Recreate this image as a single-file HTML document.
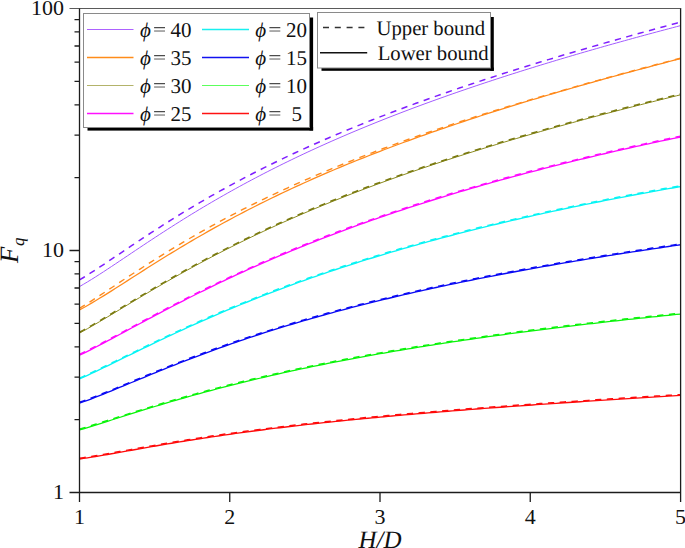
<!DOCTYPE html>
<html><head><meta charset="utf-8"><style>
html,body{margin:0;padding:0;background:#fff;width:685px;height:548px;overflow:hidden}
svg{display:block}
text{font-family:"Liberation Serif",serif;fill:#111;text-rendering:geometricPrecision}
.tl{font-size:22px;text-rendering:optimizeLegibility}
.lg{font-size:21px}
.lg2{font-size:20.7px}
.phi{font-style:italic}
.at{font-size:25px;font-style:italic}
.sub{font-size:17px}
</style></head><body>
<svg width="685" height="548" viewBox="0 0 685 548">
<path d="M79.50 286.60 L83.51 284.28 L87.51 281.89 L91.52 279.43 L95.53 276.91 L99.53 274.35 L103.54 271.75 L107.55 269.12 L111.55 266.47 L115.56 263.80 L119.57 261.11 L123.57 258.43 L127.58 255.74 L131.59 253.05 L135.59 250.36 L139.60 247.68 L143.61 245.01 L147.61 242.35 L151.62 239.70 L155.63 237.07 L159.63 234.45 L163.64 231.85 L167.65 229.27 L171.65 226.70 L175.66 224.16 L179.67 221.63 L183.67 219.13 L187.68 216.65 L191.69 214.18 L195.69 211.74 L199.70 209.32 L203.71 206.93 L207.71 204.55 L211.72 202.20 L215.73 199.87 L219.73 197.56 L223.74 195.27 L227.75 193.01 L231.75 190.76 L235.76 188.54 L239.77 186.34 L243.77 184.16 L247.78 182.00 L251.79 179.87 L255.79 177.75 L259.80 175.65 L263.81 173.57 L267.81 171.52 L271.82 169.48 L275.83 167.46 L279.83 165.46 L283.84 163.48 L287.85 161.52 L291.85 159.58 L295.86 157.65 L299.87 155.74 L303.87 153.85 L307.88 151.98 L311.89 150.13 L315.89 148.29 L319.90 146.46 L323.91 144.66 L327.91 142.87 L331.92 141.09 L335.93 139.33 L339.93 137.59 L343.94 135.86 L347.95 134.15 L351.95 132.45 L355.96 130.76 L359.97 129.09 L363.97 127.43 L367.98 125.79 L371.99 124.16 L375.99 122.54 L380.00 120.93 L384.01 119.34 L388.01 117.76 L392.02 116.19 L396.03 114.64 L400.03 113.10 L404.04 111.56 L408.05 110.04 L412.05 108.53 L416.06 107.04 L420.07 105.55 L424.07 104.07 L428.08 102.61 L432.09 101.15 L436.09 99.71 L440.10 98.27 L444.11 96.85 L448.11 95.43 L452.12 94.02 L456.13 92.63 L460.13 91.24 L464.14 89.86 L468.15 88.49 L472.15 87.13 L476.16 85.78 L480.17 84.44 L484.17 83.10 L488.18 81.78 L492.19 80.46 L496.19 79.15 L500.20 77.84 L504.21 76.55 L508.21 75.26 L512.22 73.98 L516.23 72.71 L520.23 71.44 L524.24 70.18 L528.25 68.93 L532.25 67.69 L536.26 66.45 L540.27 65.22 L544.27 64.00 L548.28 62.78 L552.29 61.57 L556.29 60.36 L560.30 59.16 L564.31 57.97 L568.31 56.78 L572.32 55.60 L576.33 54.42 L580.33 53.26 L584.34 52.09 L588.35 50.93 L592.35 49.78 L596.36 48.63 L600.37 47.49 L604.37 46.35 L608.38 45.22 L612.39 44.09 L616.39 42.97 L620.40 41.85 L624.41 40.74 L628.41 39.63 L632.42 38.53 L636.43 37.43 L640.43 36.34 L644.44 35.25 L648.45 34.16 L652.45 33.08 L656.46 32.01 L660.47 30.93 L664.47 29.86 L668.48 28.80 L672.49 27.74 L676.49 26.68 L680.50 25.63" stroke="#a35cff" stroke-width="1.00" fill="none"/>
<path d="M79.50 279.95 L83.51 277.50 L87.51 274.99 L91.52 272.42 L95.53 269.82 L99.53 267.18 L103.54 264.52 L107.55 261.84 L111.55 259.15 L115.56 256.46 L119.57 253.76 L123.57 251.06 L127.58 248.36 L131.59 245.68 L135.59 243.00 L139.60 240.34 L143.61 237.69 L147.61 235.06 L151.62 232.44 L155.63 229.84 L159.63 227.26 L163.64 224.70 L167.65 222.17 L171.65 219.65 L175.66 217.15 L179.67 214.68 L183.67 212.23 L187.68 209.81 L191.69 207.40 L195.69 205.02 L199.70 202.66 L203.71 200.33 L207.71 198.01 L211.72 195.72 L215.73 193.46 L219.73 191.21 L223.74 188.99 L227.75 186.79 L231.75 184.61 L235.76 182.46 L239.77 180.32 L243.77 178.21 L247.78 176.12 L251.79 174.04 L255.79 171.99 L259.80 169.96 L263.81 167.95 L267.81 165.95 L271.82 163.98 L275.83 162.03 L279.83 160.09 L283.84 158.17 L287.85 156.27 L291.85 154.39 L295.86 152.53 L299.87 150.68 L303.87 148.85 L307.88 147.03 L311.89 145.23 L315.89 143.45 L319.90 141.68 L323.91 139.93 L327.91 138.20 L331.92 136.48 L335.93 134.77 L339.93 133.08 L343.94 131.40 L347.95 129.73 L351.95 128.08 L355.96 126.45 L359.97 124.82 L363.97 123.21 L367.98 121.61 L371.99 120.02 L375.99 118.45 L380.00 116.89 L384.01 115.33 L388.01 113.80 L392.02 112.27 L396.03 110.75 L400.03 109.24 L404.04 107.75 L408.05 106.26 L412.05 104.79 L416.06 103.32 L420.07 101.87 L424.07 100.42 L428.08 98.99 L432.09 97.56 L436.09 96.15 L440.10 94.74 L444.11 93.34 L448.11 91.95 L452.12 90.57 L456.13 89.19 L460.13 87.83 L464.14 86.47 L468.15 85.12 L472.15 83.78 L476.16 82.45 L480.17 81.13 L484.17 79.81 L488.18 78.50 L492.19 77.19 L496.19 75.90 L500.20 74.61 L504.21 73.32 L508.21 72.05 L512.22 70.78 L516.23 69.52 L520.23 68.26 L524.24 67.01 L528.25 65.76 L532.25 64.53 L536.26 63.29 L540.27 62.07 L544.27 60.84 L548.28 59.63 L552.29 58.42 L556.29 57.21 L560.30 56.02 L564.31 54.82 L568.31 53.63 L572.32 52.45 L576.33 51.27 L580.33 50.10 L584.34 48.93 L588.35 47.76 L592.35 46.60 L596.36 45.45 L600.37 44.30 L604.37 43.15 L608.38 42.01 L612.39 40.87 L616.39 39.74 L620.40 38.61 L624.41 37.48 L628.41 36.36 L632.42 35.24 L636.43 34.13 L640.43 33.02 L644.44 31.91 L648.45 30.81 L652.45 29.71 L656.46 28.61 L660.47 27.52 L664.47 26.43 L668.48 25.35 L672.49 24.27 L676.49 23.19 L680.50 22.11" stroke="#7f1fff" stroke-width="1.50" fill="none" stroke-dasharray="6.3 5.5"/>
<path d="M79.50 309.89 L83.51 307.72 L87.51 305.47 L91.52 303.14 L95.53 300.76 L99.53 298.33 L103.54 295.87 L107.55 293.37 L111.55 290.85 L115.56 288.30 L119.57 285.75 L123.57 283.19 L127.58 280.62 L131.59 278.06 L135.59 275.49 L139.60 272.93 L143.61 270.38 L147.61 267.84 L151.62 265.31 L155.63 262.79 L159.63 260.29 L163.64 257.80 L167.65 255.33 L171.65 252.87 L175.66 250.44 L179.67 248.02 L183.67 245.62 L187.68 243.24 L191.69 240.88 L195.69 238.55 L199.70 236.23 L203.71 233.93 L207.71 231.66 L211.72 229.40 L215.73 227.17 L219.73 224.95 L223.74 222.76 L227.75 220.59 L231.75 218.44 L235.76 216.30 L239.77 214.19 L243.77 212.10 L247.78 210.03 L251.79 207.98 L255.79 205.95 L259.80 203.93 L263.81 201.94 L267.81 199.97 L271.82 198.01 L275.83 196.07 L279.83 194.15 L283.84 192.25 L287.85 190.37 L291.85 188.50 L295.86 186.65 L299.87 184.82 L303.87 183.00 L307.88 181.20 L311.89 179.41 L315.89 177.65 L319.90 175.89 L323.91 174.16 L327.91 172.43 L331.92 170.73 L335.93 169.03 L339.93 167.36 L343.94 165.69 L347.95 164.04 L351.95 162.40 L355.96 160.78 L359.97 159.17 L363.97 157.57 L367.98 155.99 L371.99 154.42 L375.99 152.86 L380.00 151.31 L384.01 149.78 L388.01 148.25 L392.02 146.74 L396.03 145.24 L400.03 143.75 L404.04 142.27 L408.05 140.80 L412.05 139.35 L416.06 137.90 L420.07 136.46 L424.07 135.04 L428.08 133.62 L432.09 132.21 L436.09 130.82 L440.10 129.43 L444.11 128.05 L448.11 126.68 L452.12 125.32 L456.13 123.97 L460.13 122.62 L464.14 121.29 L468.15 119.96 L472.15 118.65 L476.16 117.34 L480.17 116.03 L484.17 114.74 L488.18 113.45 L492.19 112.17 L496.19 110.90 L500.20 109.64 L504.21 108.38 L508.21 107.13 L512.22 105.89 L516.23 104.65 L520.23 103.42 L524.24 102.20 L528.25 100.98 L532.25 99.77 L536.26 98.56 L540.27 97.37 L544.27 96.17 L548.28 94.99 L552.29 93.81 L556.29 92.63 L560.30 91.47 L564.31 90.30 L568.31 89.15 L572.32 87.99 L576.33 86.85 L580.33 85.71 L584.34 84.57 L588.35 83.44 L592.35 82.31 L596.36 81.19 L600.37 80.07 L604.37 78.96 L608.38 77.86 L612.39 76.75 L616.39 75.66 L620.40 74.56 L624.41 73.47 L628.41 72.39 L632.42 71.31 L636.43 70.23 L640.43 69.16 L644.44 68.09 L648.45 67.03 L652.45 65.97 L656.46 64.91 L660.47 63.86 L664.47 62.81 L668.48 61.76 L672.49 60.72 L676.49 59.68 L680.50 58.65" stroke="#ff8a1c" stroke-width="1.25" fill="none"/>
<path d="M79.50 308.26 L83.51 305.83 L87.51 303.33 L91.52 300.79 L95.53 298.22 L99.53 295.62 L103.54 293.00 L107.55 290.36 L111.55 287.72 L115.56 285.07 L119.57 282.43 L123.57 279.78 L127.58 277.15 L131.59 274.52 L135.59 271.91 L139.60 269.30 L143.61 266.72 L147.61 264.15 L151.62 261.60 L155.63 259.07 L159.63 256.56 L163.64 254.07 L167.65 251.60 L171.65 249.15 L175.66 246.73 L179.67 244.33 L183.67 241.95 L187.68 239.59 L191.69 237.26 L195.69 234.95 L199.70 232.66 L203.71 230.39 L207.71 228.15 L211.72 225.93 L215.73 223.74 L219.73 221.56 L223.74 219.41 L227.75 217.28 L231.75 215.17 L235.76 213.09 L239.77 211.02 L243.77 208.98 L247.78 206.95 L251.79 204.95 L255.79 202.96 L259.80 201.00 L263.81 199.05 L267.81 197.13 L271.82 195.22 L275.83 193.33 L279.83 191.46 L283.84 189.61 L287.85 187.77 L291.85 185.95 L295.86 184.15 L299.87 182.37 L303.87 180.60 L307.88 178.85 L311.89 177.11 L315.89 175.39 L319.90 173.69 L323.91 172.00 L327.91 170.32 L331.92 168.66 L335.93 167.01 L339.93 165.38 L343.94 163.76 L347.95 162.16 L351.95 160.56 L355.96 158.98 L359.97 157.42 L363.97 155.86 L367.98 154.32 L371.99 152.79 L375.99 151.27 L380.00 149.76 L384.01 148.26 L388.01 146.78 L392.02 145.30 L396.03 143.84 L400.03 142.39 L404.04 140.95 L408.05 139.51 L412.05 138.09 L416.06 136.68 L420.07 135.27 L424.07 133.88 L428.08 132.50 L432.09 131.12 L436.09 129.75 L440.10 128.40 L444.11 127.05 L448.11 125.71 L452.12 124.37 L456.13 123.05 L460.13 121.73 L464.14 120.42 L468.15 119.12 L472.15 117.83 L476.16 116.54 L480.17 115.26 L484.17 113.99 L488.18 112.72 L492.19 111.47 L496.19 110.21 L500.20 108.97 L504.21 107.73 L508.21 106.50 L512.22 105.27 L516.23 104.05 L520.23 102.84 L524.24 101.63 L528.25 100.43 L532.25 99.24 L536.26 98.05 L540.27 96.86 L544.27 95.68 L548.28 94.51 L552.29 93.34 L556.29 92.17 L560.30 91.02 L564.31 89.86 L568.31 88.71 L572.32 87.57 L576.33 86.43 L580.33 85.30 L584.34 84.17 L588.35 83.04 L592.35 81.92 L596.36 80.80 L600.37 79.69 L604.37 78.58 L608.38 77.48 L612.39 76.38 L616.39 75.28 L620.40 74.19 L624.41 73.10 L628.41 72.01 L632.42 70.93 L636.43 69.86 L640.43 68.78 L644.44 67.71 L648.45 66.64 L652.45 65.58 L656.46 64.52 L660.47 63.46 L664.47 62.41 L668.48 61.36 L672.49 60.31 L676.49 59.27 L680.50 58.22" stroke="#ff8a1c" stroke-width="1.40" fill="none" stroke-dasharray="6.3 5.5"/>
<path d="M79.50 333.11 L83.51 330.91 L87.51 328.66 L91.52 326.37 L95.53 324.04 L99.53 321.69 L103.54 319.31 L107.55 316.91 L111.55 314.50 L115.56 312.08 L119.57 309.66 L123.57 307.24 L127.58 304.82 L131.59 302.41 L135.59 300.00 L139.60 297.60 L143.61 295.20 L147.61 292.83 L151.62 290.46 L155.63 288.10 L159.63 285.77 L163.64 283.44 L167.65 281.14 L171.65 278.85 L175.66 276.57 L179.67 274.32 L183.67 272.08 L187.68 269.86 L191.69 267.66 L195.69 265.47 L199.70 263.31 L203.71 261.16 L207.71 259.04 L211.72 256.93 L215.73 254.84 L219.73 252.77 L223.74 250.71 L227.75 248.68 L231.75 246.66 L235.76 244.66 L239.77 242.68 L243.77 240.72 L247.78 238.78 L251.79 236.85 L255.79 234.94 L259.80 233.05 L263.81 231.17 L267.81 229.31 L271.82 227.47 L275.83 225.64 L279.83 223.83 L283.84 222.04 L287.85 220.26 L291.85 218.50 L295.86 216.75 L299.87 215.01 L303.87 213.30 L307.88 211.59 L311.89 209.90 L315.89 208.23 L319.90 206.57 L323.91 204.92 L327.91 203.29 L331.92 201.66 L335.93 200.06 L339.93 198.46 L343.94 196.88 L347.95 195.31 L351.95 193.76 L355.96 192.21 L359.97 190.68 L363.97 189.16 L367.98 187.65 L371.99 186.15 L375.99 184.67 L380.00 183.19 L384.01 181.73 L388.01 180.27 L392.02 178.83 L396.03 177.40 L400.03 175.98 L404.04 174.56 L408.05 173.16 L412.05 171.77 L416.06 170.39 L420.07 169.01 L424.07 167.65 L428.08 166.30 L432.09 164.95 L436.09 163.61 L440.10 162.29 L444.11 160.97 L448.11 159.66 L452.12 158.36 L456.13 157.06 L460.13 155.78 L464.14 154.50 L468.15 153.23 L472.15 151.97 L476.16 150.72 L480.17 149.47 L484.17 148.23 L488.18 147.00 L492.19 145.78 L496.19 144.56 L500.20 143.35 L504.21 142.15 L508.21 140.95 L512.22 139.76 L516.23 138.58 L520.23 137.41 L524.24 136.24 L528.25 135.07 L532.25 133.92 L536.26 132.77 L540.27 131.62 L544.27 130.48 L548.28 129.35 L552.29 128.22 L556.29 127.10 L560.30 125.99 L564.31 124.88 L568.31 123.77 L572.32 122.68 L576.33 121.58 L580.33 120.50 L584.34 119.41 L588.35 118.34 L592.35 117.26 L596.36 116.20 L600.37 115.13 L604.37 114.08 L608.38 113.02 L612.39 111.98 L616.39 110.93 L620.40 109.89 L624.41 108.86 L628.41 107.83 L632.42 106.81 L636.43 105.78 L640.43 104.77 L644.44 103.76 L648.45 102.75 L652.45 101.75 L656.46 100.75 L660.47 99.75 L664.47 98.76 L668.48 97.77 L672.49 96.79 L676.49 95.81 L680.50 94.83" stroke="#8a8a1e" stroke-width="1.00" fill="none"/>
<path d="M79.50 332.31 L83.51 330.11 L87.51 327.86 L91.52 325.57 L95.53 323.24 L99.53 320.89 L103.54 318.51 L107.55 316.11 L111.55 313.70 L115.56 311.28 L119.57 308.86 L123.57 306.44 L127.58 304.02 L131.59 301.61 L135.59 299.20 L139.60 296.80 L143.61 294.40 L147.61 292.03 L151.62 289.66 L155.63 287.30 L159.63 284.97 L163.64 282.64 L167.65 280.34 L171.65 278.05 L175.66 275.77 L179.67 273.52 L183.67 271.28 L187.68 269.06 L191.69 266.86 L195.69 264.67 L199.70 262.51 L203.71 260.36 L207.71 258.24 L211.72 256.13 L215.73 254.04 L219.73 251.97 L223.74 249.91 L227.75 247.88 L231.75 245.86 L235.76 243.86 L239.77 241.88 L243.77 239.92 L247.78 237.98 L251.79 236.05 L255.79 234.14 L259.80 232.25 L263.81 230.37 L267.81 228.51 L271.82 226.67 L275.83 224.84 L279.83 223.03 L283.84 221.24 L287.85 219.46 L291.85 217.70 L295.86 215.95 L299.87 214.21 L303.87 212.50 L307.88 210.79 L311.89 209.10 L315.89 207.43 L319.90 205.77 L323.91 204.12 L327.91 202.49 L331.92 200.86 L335.93 199.26 L339.93 197.66 L343.94 196.08 L347.95 194.51 L351.95 192.96 L355.96 191.41 L359.97 189.88 L363.97 188.36 L367.98 186.85 L371.99 185.35 L375.99 183.87 L380.00 182.39 L384.01 180.93 L388.01 179.47 L392.02 178.03 L396.03 176.60 L400.03 175.18 L404.04 173.76 L408.05 172.36 L412.05 170.97 L416.06 169.59 L420.07 168.21 L424.07 166.85 L428.08 165.50 L432.09 164.15 L436.09 162.81 L440.10 161.49 L444.11 160.17 L448.11 158.86 L452.12 157.56 L456.13 156.26 L460.13 154.98 L464.14 153.70 L468.15 152.43 L472.15 151.17 L476.16 149.92 L480.17 148.67 L484.17 147.43 L488.18 146.20 L492.19 144.98 L496.19 143.76 L500.20 142.55 L504.21 141.35 L508.21 140.15 L512.22 138.96 L516.23 137.78 L520.23 136.61 L524.24 135.44 L528.25 134.27 L532.25 133.12 L536.26 131.97 L540.27 130.82 L544.27 129.68 L548.28 128.55 L552.29 127.42 L556.29 126.30 L560.30 125.19 L564.31 124.08 L568.31 122.97 L572.32 121.88 L576.33 120.78 L580.33 119.70 L584.34 118.61 L588.35 117.54 L592.35 116.46 L596.36 115.40 L600.37 114.33 L604.37 113.28 L608.38 112.22 L612.39 111.18 L616.39 110.13 L620.40 109.09 L624.41 108.06 L628.41 107.03 L632.42 106.01 L636.43 104.98 L640.43 103.97 L644.44 102.96 L648.45 101.95 L652.45 100.95 L656.46 99.95 L660.47 98.95 L664.47 97.96 L668.48 96.97 L672.49 95.99 L676.49 95.01 L680.50 94.03" stroke="#7a7a10" stroke-width="1.60" fill="none" stroke-dasharray="6.3 5.5"/>
<path d="M79.50 355.22 L83.51 353.29 L87.51 351.31 L91.52 349.29 L95.53 347.23 L99.53 345.16 L103.54 343.05 L107.55 340.93 L111.55 338.80 L115.56 336.66 L119.57 334.50 L123.57 332.35 L127.58 330.19 L131.59 328.03 L135.59 325.87 L139.60 323.72 L143.61 321.57 L147.61 319.42 L151.62 317.28 L155.63 315.16 L159.63 313.04 L163.64 310.93 L167.65 308.83 L171.65 306.74 L175.66 304.67 L179.67 302.61 L183.67 300.56 L187.68 298.52 L191.69 296.50 L195.69 294.49 L199.70 292.50 L203.71 290.52 L207.71 288.56 L211.72 286.61 L215.73 284.67 L219.73 282.75 L223.74 280.84 L227.75 278.95 L231.75 277.07 L235.76 275.21 L239.77 273.37 L243.77 271.53 L247.78 269.72 L251.79 267.92 L255.79 266.13 L259.80 264.35 L263.81 262.60 L267.81 260.85 L271.82 259.12 L275.83 257.41 L279.83 255.70 L283.84 254.02 L287.85 252.34 L291.85 250.68 L295.86 249.04 L299.87 247.40 L303.87 245.78 L307.88 244.18 L311.89 242.59 L315.89 241.01 L319.90 239.44 L323.91 237.88 L327.91 236.34 L331.92 234.81 L335.93 233.30 L339.93 231.79 L343.94 230.30 L347.95 228.82 L351.95 227.35 L355.96 225.89 L359.97 224.44 L363.97 223.01 L367.98 221.59 L371.99 220.18 L375.99 218.78 L380.00 217.39 L384.01 216.01 L388.01 214.64 L392.02 213.28 L396.03 211.93 L400.03 210.60 L404.04 209.27 L408.05 207.95 L412.05 206.65 L416.06 205.35 L420.07 204.06 L424.07 202.79 L428.08 201.52 L432.09 200.26 L436.09 199.01 L440.10 197.77 L444.11 196.54 L448.11 195.32 L452.12 194.11 L456.13 192.90 L460.13 191.71 L464.14 190.52 L468.15 189.34 L472.15 188.17 L476.16 187.01 L480.17 185.86 L484.17 184.71 L488.18 183.58 L492.19 182.45 L496.19 181.33 L500.20 180.21 L504.21 179.11 L508.21 178.01 L512.22 176.92 L516.23 175.84 L520.23 174.76 L524.24 173.69 L528.25 172.63 L532.25 171.58 L536.26 170.53 L540.27 169.49 L544.27 168.46 L548.28 167.43 L552.29 166.41 L556.29 165.40 L560.30 164.39 L564.31 163.39 L568.31 162.40 L572.32 161.41 L576.33 160.43 L580.33 159.46 L584.34 158.49 L588.35 157.53 L592.35 156.57 L596.36 155.62 L600.37 154.68 L604.37 153.74 L608.38 152.81 L612.39 151.88 L616.39 150.96 L620.40 150.05 L624.41 149.14 L628.41 148.24 L632.42 147.34 L636.43 146.45 L640.43 145.56 L644.44 144.68 L648.45 143.80 L652.45 142.93 L656.46 142.06 L660.47 141.20 L664.47 140.35 L668.48 139.49 L672.49 138.65 L676.49 137.81 L680.50 136.97" stroke="#ff0aff" stroke-width="1.35" fill="none"/>
<path d="M79.50 354.42 L83.51 352.49 L87.51 350.51 L91.52 348.49 L95.53 346.43 L99.53 344.36 L103.54 342.25 L107.55 340.13 L111.55 338.00 L115.56 335.86 L119.57 333.70 L123.57 331.55 L127.58 329.39 L131.59 327.23 L135.59 325.07 L139.60 322.92 L143.61 320.77 L147.61 318.62 L151.62 316.48 L155.63 314.36 L159.63 312.24 L163.64 310.13 L167.65 308.03 L171.65 305.94 L175.66 303.87 L179.67 301.81 L183.67 299.76 L187.68 297.72 L191.69 295.70 L195.69 293.69 L199.70 291.70 L203.71 289.72 L207.71 287.76 L211.72 285.81 L215.73 283.87 L219.73 281.95 L223.74 280.04 L227.75 278.15 L231.75 276.27 L235.76 274.41 L239.77 272.57 L243.77 270.73 L247.78 268.92 L251.79 267.12 L255.79 265.33 L259.80 263.55 L263.81 261.80 L267.81 260.05 L271.82 258.32 L275.83 256.61 L279.83 254.90 L283.84 253.22 L287.85 251.54 L291.85 249.88 L295.86 248.24 L299.87 246.60 L303.87 244.98 L307.88 243.38 L311.89 241.79 L315.89 240.21 L319.90 238.64 L323.91 237.08 L327.91 235.54 L331.92 234.01 L335.93 232.50 L339.93 230.99 L343.94 229.50 L347.95 228.02 L351.95 226.55 L355.96 225.09 L359.97 223.64 L363.97 222.21 L367.98 220.79 L371.99 219.38 L375.99 217.98 L380.00 216.59 L384.01 215.21 L388.01 213.84 L392.02 212.48 L396.03 211.13 L400.03 209.80 L404.04 208.47 L408.05 207.15 L412.05 205.85 L416.06 204.55 L420.07 203.26 L424.07 201.99 L428.08 200.72 L432.09 199.46 L436.09 198.21 L440.10 196.97 L444.11 195.74 L448.11 194.52 L452.12 193.31 L456.13 192.10 L460.13 190.91 L464.14 189.72 L468.15 188.54 L472.15 187.37 L476.16 186.21 L480.17 185.06 L484.17 183.91 L488.18 182.78 L492.19 181.65 L496.19 180.53 L500.20 179.41 L504.21 178.31 L508.21 177.21 L512.22 176.12 L516.23 175.04 L520.23 173.96 L524.24 172.89 L528.25 171.83 L532.25 170.78 L536.26 169.73 L540.27 168.69 L544.27 167.66 L548.28 166.63 L552.29 165.61 L556.29 164.60 L560.30 163.59 L564.31 162.59 L568.31 161.60 L572.32 160.61 L576.33 159.63 L580.33 158.66 L584.34 157.69 L588.35 156.73 L592.35 155.77 L596.36 154.82 L600.37 153.88 L604.37 152.94 L608.38 152.01 L612.39 151.08 L616.39 150.16 L620.40 149.25 L624.41 148.34 L628.41 147.44 L632.42 146.54 L636.43 145.65 L640.43 144.76 L644.44 143.88 L648.45 143.00 L652.45 142.13 L656.46 141.26 L660.47 140.40 L664.47 139.55 L668.48 138.69 L672.49 137.85 L676.49 137.01 L680.50 136.17" stroke="#ff0aff" stroke-width="1.50" fill="none" stroke-dasharray="6.3 5.5"/>
<path d="M79.50 378.92 L83.51 377.13 L87.51 375.30 L91.52 373.44 L95.53 371.55 L99.53 369.64 L103.54 367.72 L107.55 365.78 L111.55 363.83 L115.56 361.88 L119.57 359.92 L123.57 357.97 L127.58 356.01 L131.59 354.05 L135.59 352.10 L139.60 350.15 L143.61 348.20 L147.61 346.27 L151.62 344.34 L155.63 342.42 L159.63 340.51 L163.64 338.62 L167.65 336.73 L171.65 334.85 L175.66 332.99 L179.67 331.14 L183.67 329.30 L187.68 327.47 L191.69 325.66 L195.69 323.86 L199.70 322.08 L203.71 320.31 L207.71 318.55 L211.72 316.81 L215.73 315.08 L219.73 313.36 L223.74 311.66 L227.75 309.97 L231.75 308.30 L235.76 306.64 L239.77 305.00 L243.77 303.37 L247.78 301.75 L251.79 300.15 L255.79 298.56 L259.80 296.98 L263.81 295.42 L267.81 293.87 L271.82 292.34 L275.83 290.81 L279.83 289.30 L283.84 287.81 L287.85 286.33 L291.85 284.86 L295.86 283.40 L299.87 281.96 L303.87 280.53 L307.88 279.11 L311.89 277.70 L315.89 276.30 L319.90 274.92 L323.91 273.55 L327.91 272.19 L331.92 270.85 L335.93 269.51 L339.93 268.18 L343.94 266.87 L347.95 265.57 L351.95 264.28 L355.96 263.00 L359.97 261.73 L363.97 260.47 L367.98 259.22 L371.99 257.99 L375.99 256.76 L380.00 255.54 L384.01 254.34 L388.01 253.14 L392.02 251.95 L396.03 250.78 L400.03 249.61 L404.04 248.45 L408.05 247.30 L412.05 246.16 L416.06 245.03 L420.07 243.91 L424.07 242.80 L428.08 241.70 L432.09 240.61 L436.09 239.52 L440.10 238.44 L444.11 237.38 L448.11 236.32 L452.12 235.27 L456.13 234.22 L460.13 233.19 L464.14 232.16 L468.15 231.14 L472.15 230.13 L476.16 229.13 L480.17 228.13 L484.17 227.14 L488.18 226.16 L492.19 225.19 L496.19 224.23 L500.20 223.27 L504.21 222.32 L508.21 221.37 L512.22 220.44 L516.23 219.51 L520.23 218.58 L524.24 217.67 L528.25 216.76 L532.25 215.86 L536.26 214.96 L540.27 214.07 L544.27 213.19 L548.28 212.31 L552.29 211.44 L556.29 210.58 L560.30 209.72 L564.31 208.87 L568.31 208.02 L572.32 207.18 L576.33 206.35 L580.33 205.52 L584.34 204.70 L588.35 203.89 L592.35 203.07 L596.36 202.27 L600.37 201.47 L604.37 200.68 L608.38 199.89 L612.39 199.11 L616.39 198.33 L620.40 197.56 L624.41 196.79 L628.41 196.03 L632.42 195.27 L636.43 194.52 L640.43 193.78 L644.44 193.04 L648.45 192.30 L652.45 191.57 L656.46 190.84 L660.47 190.12 L664.47 189.40 L668.48 188.69 L672.49 187.98 L676.49 187.28 L680.50 186.58" stroke="#08f4f4" stroke-width="1.35" fill="none"/>
<path d="M79.50 378.12 L83.51 376.33 L87.51 374.50 L91.52 372.64 L95.53 370.75 L99.53 368.84 L103.54 366.92 L107.55 364.98 L111.55 363.03 L115.56 361.08 L119.57 359.12 L123.57 357.17 L127.58 355.21 L131.59 353.25 L135.59 351.30 L139.60 349.35 L143.61 347.40 L147.61 345.47 L151.62 343.54 L155.63 341.62 L159.63 339.71 L163.64 337.82 L167.65 335.93 L171.65 334.05 L175.66 332.19 L179.67 330.34 L183.67 328.50 L187.68 326.67 L191.69 324.86 L195.69 323.06 L199.70 321.28 L203.71 319.51 L207.71 317.75 L211.72 316.01 L215.73 314.28 L219.73 312.56 L223.74 310.86 L227.75 309.17 L231.75 307.50 L235.76 305.84 L239.77 304.20 L243.77 302.57 L247.78 300.95 L251.79 299.35 L255.79 297.76 L259.80 296.18 L263.81 294.62 L267.81 293.07 L271.82 291.54 L275.83 290.01 L279.83 288.50 L283.84 287.01 L287.85 285.53 L291.85 284.06 L295.86 282.60 L299.87 281.16 L303.87 279.73 L307.88 278.31 L311.89 276.90 L315.89 275.50 L319.90 274.12 L323.91 272.75 L327.91 271.39 L331.92 270.05 L335.93 268.71 L339.93 267.38 L343.94 266.07 L347.95 264.77 L351.95 263.48 L355.96 262.20 L359.97 260.93 L363.97 259.67 L367.98 258.42 L371.99 257.19 L375.99 255.96 L380.00 254.74 L384.01 253.54 L388.01 252.34 L392.02 251.15 L396.03 249.98 L400.03 248.81 L404.04 247.65 L408.05 246.50 L412.05 245.36 L416.06 244.23 L420.07 243.11 L424.07 242.00 L428.08 240.90 L432.09 239.81 L436.09 238.72 L440.10 237.64 L444.11 236.58 L448.11 235.52 L452.12 234.47 L456.13 233.42 L460.13 232.39 L464.14 231.36 L468.15 230.34 L472.15 229.33 L476.16 228.33 L480.17 227.33 L484.17 226.34 L488.18 225.36 L492.19 224.39 L496.19 223.43 L500.20 222.47 L504.21 221.52 L508.21 220.57 L512.22 219.64 L516.23 218.71 L520.23 217.78 L524.24 216.87 L528.25 215.96 L532.25 215.06 L536.26 214.16 L540.27 213.27 L544.27 212.39 L548.28 211.51 L552.29 210.64 L556.29 209.78 L560.30 208.92 L564.31 208.07 L568.31 207.22 L572.32 206.38 L576.33 205.55 L580.33 204.72 L584.34 203.90 L588.35 203.09 L592.35 202.27 L596.36 201.47 L600.37 200.67 L604.37 199.88 L608.38 199.09 L612.39 198.31 L616.39 197.53 L620.40 196.76 L624.41 195.99 L628.41 195.23 L632.42 194.47 L636.43 193.72 L640.43 192.98 L644.44 192.24 L648.45 191.50 L652.45 190.77 L656.46 190.04 L660.47 189.32 L664.47 188.60 L668.48 187.89 L672.49 187.18 L676.49 186.48 L680.50 185.78" stroke="#08f4f4" stroke-width="1.50" fill="none" stroke-dasharray="6.3 5.5"/>
<path d="M79.50 403.13 L83.51 401.73 L87.51 400.26 L91.52 398.76 L95.53 397.22 L99.53 395.64 L103.54 394.05 L107.55 392.43 L111.55 390.79 L115.56 389.15 L119.57 387.49 L123.57 385.83 L127.58 384.16 L131.59 382.50 L135.59 380.83 L139.60 379.17 L143.61 377.51 L147.61 375.86 L151.62 374.21 L155.63 372.58 L159.63 370.95 L163.64 369.33 L167.65 367.72 L171.65 366.12 L175.66 364.53 L179.67 362.96 L183.67 361.40 L187.68 359.85 L191.69 358.31 L195.69 356.79 L199.70 355.28 L203.71 353.78 L207.71 352.30 L211.72 350.83 L215.73 349.37 L219.73 347.93 L223.74 346.50 L227.75 345.08 L231.75 343.68 L235.76 342.29 L239.77 340.92 L243.77 339.56 L247.78 338.21 L251.79 336.88 L255.79 335.56 L259.80 334.25 L263.81 332.95 L267.81 331.67 L271.82 330.40 L275.83 329.15 L279.83 327.90 L283.84 326.67 L287.85 325.45 L291.85 324.24 L295.86 323.05 L299.87 321.86 L303.87 320.69 L307.88 319.53 L311.89 318.38 L315.89 317.24 L319.90 316.11 L323.91 314.99 L327.91 313.88 L331.92 312.79 L335.93 311.70 L339.93 310.63 L343.94 309.56 L347.95 308.51 L351.95 307.46 L355.96 306.42 L359.97 305.40 L363.97 304.38 L367.98 303.37 L371.99 302.37 L375.99 301.38 L380.00 300.40 L384.01 299.43 L388.01 298.47 L392.02 297.51 L396.03 296.56 L400.03 295.63 L404.04 294.70 L408.05 293.77 L412.05 292.86 L416.06 291.95 L420.07 291.05 L424.07 290.16 L428.08 289.28 L432.09 288.40 L436.09 287.53 L440.10 286.67 L444.11 285.81 L448.11 284.96 L452.12 284.12 L456.13 283.29 L460.13 282.46 L464.14 281.64 L468.15 280.82 L472.15 280.01 L476.16 279.21 L480.17 278.41 L484.17 277.62 L488.18 276.83 L492.19 276.06 L496.19 275.28 L500.20 274.51 L504.21 273.75 L508.21 273.00 L512.22 272.25 L516.23 271.50 L520.23 270.76 L524.24 270.03 L528.25 269.30 L532.25 268.57 L536.26 267.85 L540.27 267.14 L544.27 266.43 L548.28 265.72 L552.29 265.02 L556.29 264.33 L560.30 263.64 L564.31 262.95 L568.31 262.27 L572.32 261.59 L576.33 260.92 L580.33 260.25 L584.34 259.59 L588.35 258.93 L592.35 258.27 L596.36 257.62 L600.37 256.97 L604.37 256.33 L608.38 255.69 L612.39 255.05 L616.39 254.42 L620.40 253.79 L624.41 253.17 L628.41 252.55 L632.42 251.93 L636.43 251.32 L640.43 250.71 L644.44 250.10 L648.45 249.50 L652.45 248.90 L656.46 248.30 L660.47 247.71 L664.47 247.12 L668.48 246.53 L672.49 245.95 L676.49 245.37 L680.50 244.79" stroke="#0a0af4" stroke-width="1.35" fill="none"/>
<path d="M79.50 402.33 L83.51 400.93 L87.51 399.46 L91.52 397.96 L95.53 396.42 L99.53 394.84 L103.54 393.25 L107.55 391.63 L111.55 389.99 L115.56 388.35 L119.57 386.69 L123.57 385.03 L127.58 383.36 L131.59 381.70 L135.59 380.03 L139.60 378.37 L143.61 376.71 L147.61 375.06 L151.62 373.41 L155.63 371.78 L159.63 370.15 L163.64 368.53 L167.65 366.92 L171.65 365.32 L175.66 363.73 L179.67 362.16 L183.67 360.60 L187.68 359.05 L191.69 357.51 L195.69 355.99 L199.70 354.48 L203.71 352.98 L207.71 351.50 L211.72 350.03 L215.73 348.57 L219.73 347.13 L223.74 345.70 L227.75 344.28 L231.75 342.88 L235.76 341.49 L239.77 340.12 L243.77 338.76 L247.78 337.41 L251.79 336.08 L255.79 334.76 L259.80 333.45 L263.81 332.15 L267.81 330.87 L271.82 329.60 L275.83 328.35 L279.83 327.10 L283.84 325.87 L287.85 324.65 L291.85 323.44 L295.86 322.25 L299.87 321.06 L303.87 319.89 L307.88 318.73 L311.89 317.58 L315.89 316.44 L319.90 315.31 L323.91 314.19 L327.91 313.08 L331.92 311.99 L335.93 310.90 L339.93 309.83 L343.94 308.76 L347.95 307.71 L351.95 306.66 L355.96 305.62 L359.97 304.60 L363.97 303.58 L367.98 302.57 L371.99 301.57 L375.99 300.58 L380.00 299.60 L384.01 298.63 L388.01 297.67 L392.02 296.71 L396.03 295.76 L400.03 294.83 L404.04 293.90 L408.05 292.97 L412.05 292.06 L416.06 291.15 L420.07 290.25 L424.07 289.36 L428.08 288.48 L432.09 287.60 L436.09 286.73 L440.10 285.87 L444.11 285.01 L448.11 284.16 L452.12 283.32 L456.13 282.49 L460.13 281.66 L464.14 280.84 L468.15 280.02 L472.15 279.21 L476.16 278.41 L480.17 277.61 L484.17 276.82 L488.18 276.03 L492.19 275.26 L496.19 274.48 L500.20 273.71 L504.21 272.95 L508.21 272.20 L512.22 271.45 L516.23 270.70 L520.23 269.96 L524.24 269.23 L528.25 268.50 L532.25 267.77 L536.26 267.05 L540.27 266.34 L544.27 265.63 L548.28 264.92 L552.29 264.22 L556.29 263.53 L560.30 262.84 L564.31 262.15 L568.31 261.47 L572.32 260.79 L576.33 260.12 L580.33 259.45 L584.34 258.79 L588.35 258.13 L592.35 257.47 L596.36 256.82 L600.37 256.17 L604.37 255.53 L608.38 254.89 L612.39 254.25 L616.39 253.62 L620.40 252.99 L624.41 252.37 L628.41 251.75 L632.42 251.13 L636.43 250.52 L640.43 249.91 L644.44 249.30 L648.45 248.70 L652.45 248.10 L656.46 247.50 L660.47 246.91 L664.47 246.32 L668.48 245.73 L672.49 245.15 L676.49 244.57 L680.50 243.99" stroke="#0a0af4" stroke-width="1.50" fill="none" stroke-dasharray="6.3 5.5"/>
<path d="M79.50 429.98 L83.51 428.78 L87.51 427.56 L91.52 426.33 L95.53 425.08 L99.53 423.82 L103.54 422.56 L107.55 421.29 L111.55 420.02 L115.56 418.75 L119.57 417.48 L123.57 416.21 L127.58 414.95 L131.59 413.69 L135.59 412.43 L139.60 411.18 L143.61 409.94 L147.61 408.71 L151.62 407.49 L155.63 406.27 L159.63 405.06 L163.64 403.87 L167.65 402.68 L171.65 401.50 L175.66 400.33 L179.67 399.17 L183.67 398.03 L187.68 396.89 L191.69 395.77 L195.69 394.65 L199.70 393.55 L203.71 392.45 L207.71 391.37 L211.72 390.30 L215.73 389.23 L219.73 388.18 L223.74 387.14 L227.75 386.11 L231.75 385.09 L235.76 384.08 L239.77 383.08 L243.77 382.09 L247.78 381.11 L251.79 380.15 L255.79 379.19 L259.80 378.24 L263.81 377.30 L267.81 376.36 L271.82 375.44 L275.83 374.53 L279.83 373.63 L283.84 372.73 L287.85 371.85 L291.85 370.97 L295.86 370.11 L299.87 369.25 L303.87 368.40 L307.88 367.56 L311.89 366.72 L315.89 365.90 L319.90 365.08 L323.91 364.27 L327.91 363.47 L331.92 362.67 L335.93 361.89 L339.93 361.11 L343.94 360.34 L347.95 359.57 L351.95 358.82 L355.96 358.07 L359.97 357.32 L363.97 356.59 L367.98 355.86 L371.99 355.14 L375.99 354.42 L380.00 353.71 L384.01 353.01 L388.01 352.31 L392.02 351.62 L396.03 350.94 L400.03 350.26 L404.04 349.59 L408.05 348.93 L412.05 348.27 L416.06 347.61 L420.07 346.96 L424.07 346.32 L428.08 345.68 L432.09 345.05 L436.09 344.42 L440.10 343.80 L444.11 343.19 L448.11 342.58 L452.12 341.97 L456.13 341.37 L460.13 340.78 L464.14 340.18 L468.15 339.60 L472.15 339.02 L476.16 338.44 L480.17 337.87 L484.17 337.30 L488.18 336.74 L492.19 336.18 L496.19 335.63 L500.20 335.08 L504.21 334.53 L508.21 333.99 L512.22 333.45 L516.23 332.92 L520.23 332.39 L524.24 331.87 L528.25 331.35 L532.25 330.83 L536.26 330.32 L540.27 329.81 L544.27 329.30 L548.28 328.80 L552.29 328.30 L556.29 327.81 L560.30 327.32 L564.31 326.83 L568.31 326.35 L572.32 325.87 L576.33 325.39 L580.33 324.92 L584.34 324.45 L588.35 323.98 L592.35 323.52 L596.36 323.06 L600.37 322.60 L604.37 322.15 L608.38 321.69 L612.39 321.25 L616.39 320.80 L620.40 320.36 L624.41 319.92 L628.41 319.48 L632.42 319.05 L636.43 318.62 L640.43 318.19 L644.44 317.77 L648.45 317.35 L652.45 316.93 L656.46 316.51 L660.47 316.10 L664.47 315.68 L668.48 315.28 L672.49 314.87 L676.49 314.47 L680.50 314.07" stroke="#0af40a" stroke-width="1.25" fill="none"/>
<path d="M79.50 429.18 L83.51 427.98 L87.51 426.76 L91.52 425.53 L95.53 424.28 L99.53 423.02 L103.54 421.76 L107.55 420.49 L111.55 419.22 L115.56 417.95 L119.57 416.68 L123.57 415.41 L127.58 414.15 L131.59 412.89 L135.59 411.63 L139.60 410.38 L143.61 409.14 L147.61 407.91 L151.62 406.69 L155.63 405.47 L159.63 404.26 L163.64 403.07 L167.65 401.88 L171.65 400.70 L175.66 399.53 L179.67 398.37 L183.67 397.23 L187.68 396.09 L191.69 394.97 L195.69 393.85 L199.70 392.75 L203.71 391.65 L207.71 390.57 L211.72 389.50 L215.73 388.43 L219.73 387.38 L223.74 386.34 L227.75 385.31 L231.75 384.29 L235.76 383.28 L239.77 382.28 L243.77 381.29 L247.78 380.31 L251.79 379.35 L255.79 378.39 L259.80 377.44 L263.81 376.50 L267.81 375.56 L271.82 374.64 L275.83 373.73 L279.83 372.83 L283.84 371.93 L287.85 371.05 L291.85 370.17 L295.86 369.31 L299.87 368.45 L303.87 367.60 L307.88 366.76 L311.89 365.92 L315.89 365.10 L319.90 364.28 L323.91 363.47 L327.91 362.67 L331.92 361.87 L335.93 361.09 L339.93 360.31 L343.94 359.54 L347.95 358.77 L351.95 358.02 L355.96 357.27 L359.97 356.52 L363.97 355.79 L367.98 355.06 L371.99 354.34 L375.99 353.62 L380.00 352.91 L384.01 352.21 L388.01 351.51 L392.02 350.82 L396.03 350.14 L400.03 349.46 L404.04 348.79 L408.05 348.13 L412.05 347.47 L416.06 346.81 L420.07 346.16 L424.07 345.52 L428.08 344.88 L432.09 344.25 L436.09 343.62 L440.10 343.00 L444.11 342.39 L448.11 341.78 L452.12 341.17 L456.13 340.57 L460.13 339.98 L464.14 339.38 L468.15 338.80 L472.15 338.22 L476.16 337.64 L480.17 337.07 L484.17 336.50 L488.18 335.94 L492.19 335.38 L496.19 334.83 L500.20 334.28 L504.21 333.73 L508.21 333.19 L512.22 332.65 L516.23 332.12 L520.23 331.59 L524.24 331.07 L528.25 330.55 L532.25 330.03 L536.26 329.52 L540.27 329.01 L544.27 328.50 L548.28 328.00 L552.29 327.50 L556.29 327.01 L560.30 326.52 L564.31 326.03 L568.31 325.55 L572.32 325.07 L576.33 324.59 L580.33 324.12 L584.34 323.65 L588.35 323.18 L592.35 322.72 L596.36 322.26 L600.37 321.80 L604.37 321.35 L608.38 320.89 L612.39 320.45 L616.39 320.00 L620.40 319.56 L624.41 319.12 L628.41 318.68 L632.42 318.25 L636.43 317.82 L640.43 317.39 L644.44 316.97 L648.45 316.55 L652.45 316.13 L656.46 315.71 L660.47 315.30 L664.47 314.88 L668.48 314.48 L672.49 314.07 L676.49 313.67 L680.50 313.27" stroke="#0af40a" stroke-width="1.50" fill="none" stroke-dasharray="6.3 5.5"/>
<path d="M79.50 459.01 L83.51 458.43 L87.51 457.82 L91.52 457.19 L95.53 456.53 L99.53 455.86 L103.54 455.18 L107.55 454.49 L111.55 453.78 L115.56 453.08 L119.57 452.36 L123.57 451.65 L127.58 450.93 L131.59 450.22 L135.59 449.50 L139.60 448.79 L143.61 448.08 L147.61 447.38 L151.62 446.68 L155.63 445.98 L159.63 445.29 L163.64 444.61 L167.65 443.93 L171.65 443.26 L175.66 442.59 L179.67 441.93 L183.67 441.28 L187.68 440.63 L191.69 440.00 L195.69 439.37 L199.70 438.74 L203.71 438.12 L207.71 437.51 L211.72 436.91 L215.73 436.32 L219.73 435.73 L223.74 435.15 L227.75 434.57 L231.75 434.01 L235.76 433.45 L239.77 432.89 L243.77 432.35 L247.78 431.81 L251.79 431.27 L255.79 430.75 L259.80 430.22 L263.81 429.71 L267.81 429.20 L271.82 428.70 L275.83 428.20 L279.83 427.71 L283.84 427.23 L287.85 426.75 L291.85 426.28 L295.86 425.81 L299.87 425.35 L303.87 424.89 L307.88 424.44 L311.89 423.99 L315.89 423.55 L319.90 423.12 L323.91 422.68 L327.91 422.26 L331.92 421.84 L335.93 421.42 L339.93 421.00 L343.94 420.59 L347.95 420.19 L351.95 419.79 L355.96 419.39 L359.97 419.00 L363.97 418.61 L367.98 418.23 L371.99 417.85 L375.99 417.47 L380.00 417.10 L384.01 416.73 L388.01 416.36 L392.02 416.00 L396.03 415.64 L400.03 415.28 L404.04 414.93 L408.05 414.58 L412.05 414.23 L416.06 413.89 L420.07 413.54 L424.07 413.21 L428.08 412.87 L432.09 412.54 L436.09 412.21 L440.10 411.88 L444.11 411.56 L448.11 411.23 L452.12 410.91 L456.13 410.60 L460.13 410.28 L464.14 409.97 L468.15 409.66 L472.15 409.35 L476.16 409.04 L480.17 408.74 L484.17 408.44 L488.18 408.14 L492.19 407.84 L496.19 407.54 L500.20 407.25 L504.21 406.96 L508.21 406.67 L512.22 406.38 L516.23 406.09 L520.23 405.81 L524.24 405.52 L528.25 405.24 L532.25 404.96 L536.26 404.68 L540.27 404.41 L544.27 404.13 L548.28 403.86 L552.29 403.58 L556.29 403.31 L560.30 403.04 L564.31 402.77 L568.31 402.51 L572.32 402.24 L576.33 401.98 L580.33 401.71 L584.34 401.45 L588.35 401.19 L592.35 400.93 L596.36 400.67 L600.37 400.41 L604.37 400.15 L608.38 399.90 L612.39 399.64 L616.39 399.39 L620.40 399.14 L624.41 398.88 L628.41 398.63 L632.42 398.38 L636.43 398.13 L640.43 397.89 L644.44 397.64 L648.45 397.39 L652.45 397.15 L656.46 396.90 L660.47 396.66 L664.47 396.41 L668.48 396.17 L672.49 395.93 L676.49 395.69 L680.50 395.45" stroke="#ff0a0a" stroke-width="1.35" fill="none"/>
<path d="M79.50 458.21 L83.51 457.63 L87.51 457.02 L91.52 456.39 L95.53 455.73 L99.53 455.06 L103.54 454.38 L107.55 453.69 L111.55 452.98 L115.56 452.28 L119.57 451.56 L123.57 450.85 L127.58 450.13 L131.59 449.42 L135.59 448.70 L139.60 447.99 L143.61 447.28 L147.61 446.58 L151.62 445.88 L155.63 445.18 L159.63 444.49 L163.64 443.81 L167.65 443.13 L171.65 442.46 L175.66 441.79 L179.67 441.13 L183.67 440.48 L187.68 439.83 L191.69 439.20 L195.69 438.57 L199.70 437.94 L203.71 437.32 L207.71 436.71 L211.72 436.11 L215.73 435.52 L219.73 434.93 L223.74 434.35 L227.75 433.77 L231.75 433.21 L235.76 432.65 L239.77 432.09 L243.77 431.55 L247.78 431.01 L251.79 430.47 L255.79 429.95 L259.80 429.42 L263.81 428.91 L267.81 428.40 L271.82 427.90 L275.83 427.40 L279.83 426.91 L283.84 426.43 L287.85 425.95 L291.85 425.48 L295.86 425.01 L299.87 424.55 L303.87 424.09 L307.88 423.64 L311.89 423.19 L315.89 422.75 L319.90 422.32 L323.91 421.88 L327.91 421.46 L331.92 421.04 L335.93 420.62 L339.93 420.20 L343.94 419.79 L347.95 419.39 L351.95 418.99 L355.96 418.59 L359.97 418.20 L363.97 417.81 L367.98 417.43 L371.99 417.05 L375.99 416.67 L380.00 416.30 L384.01 415.93 L388.01 415.56 L392.02 415.20 L396.03 414.84 L400.03 414.48 L404.04 414.13 L408.05 413.78 L412.05 413.43 L416.06 413.09 L420.07 412.74 L424.07 412.41 L428.08 412.07 L432.09 411.74 L436.09 411.41 L440.10 411.08 L444.11 410.76 L448.11 410.43 L452.12 410.11 L456.13 409.80 L460.13 409.48 L464.14 409.17 L468.15 408.86 L472.15 408.55 L476.16 408.24 L480.17 407.94 L484.17 407.64 L488.18 407.34 L492.19 407.04 L496.19 406.74 L500.20 406.45 L504.21 406.16 L508.21 405.87 L512.22 405.58 L516.23 405.29 L520.23 405.01 L524.24 404.72 L528.25 404.44 L532.25 404.16 L536.26 403.88 L540.27 403.61 L544.27 403.33 L548.28 403.06 L552.29 402.78 L556.29 402.51 L560.30 402.24 L564.31 401.97 L568.31 401.71 L572.32 401.44 L576.33 401.18 L580.33 400.91 L584.34 400.65 L588.35 400.39 L592.35 400.13 L596.36 399.87 L600.37 399.61 L604.37 399.35 L608.38 399.10 L612.39 398.84 L616.39 398.59 L620.40 398.34 L624.41 398.08 L628.41 397.83 L632.42 397.58 L636.43 397.33 L640.43 397.09 L644.44 396.84 L648.45 396.59 L652.45 396.35 L656.46 396.10 L660.47 395.86 L664.47 395.61 L668.48 395.37 L672.49 395.13 L676.49 394.89 L680.50 394.65" stroke="#ff0a0a" stroke-width="1.50" fill="none" stroke-dasharray="6.3 5.5"/>
<path d="M69.5 8.5 H681.2" stroke="#5a5a5a" stroke-width="1.1" fill="none"/>
<path d="M69.5 492.50 H79.5 M74.5 419.65 H79.5 M74.5 377.04 H79.5 M74.5 346.80 H79.5 M74.5 323.35 H79.5 M74.5 304.19 H79.5 M74.5 287.99 H79.5 M74.5 273.95 H79.5 M74.5 261.57 H79.5 M69.5 250.50 H79.5 M74.5 177.65 H79.5 M74.5 135.04 H79.5 M74.5 104.80 H79.5 M74.5 81.35 H79.5 M74.5 62.19 H79.5 M74.5 45.99 H79.5 M74.5 31.95 H79.5 M74.5 19.57 H79.5 M79.50 492.5 V502.0 M229.75 492.5 V502.0 M380.00 492.5 V502.0 M530.25 492.5 V502.0 M680.60 492.5 V502.0 M79.5 8.5 V492.5 M79.5 492.5 H680.6 M680.6 8.5 V492.5" stroke="#1c1c1c" stroke-width="1.3" fill="none"/>
<text x="64.1" y="14.5" text-anchor="end" class="tl">100</text>
<text x="64.1" y="256.5" text-anchor="end" class="tl">10</text>
<text x="64.1" y="498.5" text-anchor="end" class="tl">1</text>
<text x="79.50" y="524" text-anchor="middle" class="tl">1</text>
<text x="229.75" y="524" text-anchor="middle" class="tl">2</text>
<text x="380.00" y="524" text-anchor="middle" class="tl">3</text>
<text x="530.25" y="524" text-anchor="middle" class="tl">4</text>
<text x="680.50" y="524" text-anchor="middle" class="tl">5</text>
<text x="380" y="547.5" text-anchor="middle" class="at">H/D</text>
<g transform="translate(17.50,262.90) rotate(-90)"><text x="0" y="0" class="at" style="font-size:26.5px">F</text></g>
<g transform="translate(24.30,246.00) rotate(-90)"><text x="0" y="0" class="at" style="font-size:17.0px">q</text></g>
<rect x="309.5" y="17.5" width="3.6" height="113" fill="#000"/>
<rect x="87.5" y="127" width="225.6" height="3.6" fill="#000"/>
<rect x="83.5" y="13.5" width="226" height="114" fill="#fff" stroke="#8a8a8a" stroke-width="1"/>
<path d="M87 29.5 H133.5" stroke="#ad62ff" stroke-width="1.0"/>
<text x="140.0" y="36.5" class="lg phi">ϕ</text><rect x="154.1" y="27.00" width="10.9" height="1.25" fill="#4c4c4c"/><rect x="154.1" y="30.40" width="10.9" height="1.25" fill="#7c7c7c"/><text x="170.6" y="36.5" class="lg">40</text>
<path d="M202 29.5 H249" stroke="#18f0f0" stroke-width="1.6"/>
<text x="255.3" y="36.5" class="lg phi">ϕ</text><rect x="269.4" y="27.00" width="10.9" height="1.25" fill="#4c4c4c"/><rect x="269.4" y="30.40" width="10.9" height="1.25" fill="#7c7c7c"/><text x="285.9" y="36.5" class="lg">20</text>
<path d="M87 57.5 H133.5" stroke="#ff8c1a" stroke-width="1.4"/>
<text x="140.0" y="64.5" class="lg phi">ϕ</text><rect x="154.1" y="55.00" width="10.9" height="1.25" fill="#4c4c4c"/><rect x="154.1" y="58.40" width="10.9" height="1.25" fill="#7c7c7c"/><text x="170.6" y="64.5" class="lg">35</text>
<path d="M202 57.5 H249" stroke="#1212f0" stroke-width="1.6"/>
<text x="255.3" y="64.5" class="lg phi">ϕ</text><rect x="269.4" y="55.00" width="10.9" height="1.25" fill="#4c4c4c"/><rect x="269.4" y="58.40" width="10.9" height="1.25" fill="#7c7c7c"/><text x="285.9" y="64.5" class="lg">15</text>
<path d="M87 85.5 H133.5" stroke="#b3b36a" stroke-width="1.0"/>
<text x="140.0" y="92.5" class="lg phi">ϕ</text><rect x="154.1" y="83.00" width="10.9" height="1.25" fill="#4c4c4c"/><rect x="154.1" y="86.40" width="10.9" height="1.25" fill="#7c7c7c"/><text x="170.6" y="92.5" class="lg">30</text>
<path d="M202 85.5 H249" stroke="#5cff5c" stroke-width="1.1"/>
<text x="255.3" y="92.5" class="lg phi">ϕ</text><rect x="269.4" y="83.00" width="10.9" height="1.25" fill="#4c4c4c"/><rect x="269.4" y="86.40" width="10.9" height="1.25" fill="#7c7c7c"/><text x="285.9" y="92.5" class="lg">10</text>
<path d="M87 113.5 H133.5" stroke="#ff10ff" stroke-width="1.6"/>
<text x="140.0" y="120.5" class="lg phi">ϕ</text><rect x="154.1" y="111.00" width="10.9" height="1.25" fill="#4c4c4c"/><rect x="154.1" y="114.40" width="10.9" height="1.25" fill="#7c7c7c"/><text x="170.6" y="120.5" class="lg">25</text>
<path d="M202 113.5 H249" stroke="#ff1212" stroke-width="1.6"/>
<text x="255.3" y="120.5" class="lg phi">ϕ</text><rect x="269.4" y="111.00" width="10.9" height="1.25" fill="#4c4c4c"/><rect x="269.4" y="114.40" width="10.9" height="1.25" fill="#7c7c7c"/><text x="291.5" y="120.5" class="lg">5</text>
<rect x="490.2" y="17" width="3.6" height="53.8" fill="#000"/>
<rect x="321.5" y="67.5" width="172.3" height="3.3" fill="#000"/>
<rect x="317.5" y="12.5" width="173" height="55.5" fill="#fff" stroke="#8a8a8a" stroke-width="1"/>
<path d="M323 27.5 H365.5" stroke="#333" stroke-width="1.3" stroke-dasharray="6 5.8"/>
<path d="M320 52.7 H367.2" stroke="#111" stroke-width="1.5"/>
<text x="376.5" y="34.7" class="lg2">Upper bound</text>
<text x="377.7" y="60.3" class="lg2">Lower bound</text>
</svg>
</body></html>
